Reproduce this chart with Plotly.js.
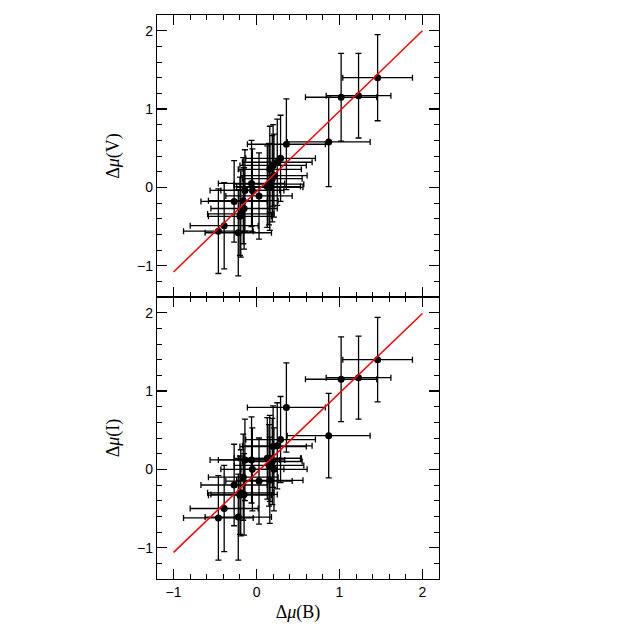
<!DOCTYPE html>
<html>
<head>
<meta charset="utf-8">
<script src="https://cdn.plot.ly/plotly-3.0.1.min.js"></script>
<style>body{margin:0;background:#fff}</style>
</head>
<body>
<div id="draw" style="width:638px;height:638px"></div>
<script>
// shared B offsets for both panels
const dB    = [1.46, 1.23, 1.02, 0.87, 0.36, 0.29, 0.25, 0.20, 0.16, 0.21, 0.19, 0.15, 0.16, 0.13, -0.06, -0.14, 0.03, -0.05, -0.27, -0.16, -0.15, -0.19, -0.20, -0.39, -0.46, -0.22]
const dBerr = [0.42, 0.39, 0.43, 0.50, 0.47, 0.42, 0.42, 0.40, 0.38, 0.40, 0.36, 0.42, 0.40, 0.40, 0.40, 0.42, 0.40, 0.38, 0.40, 0.42, 0.40, 0.40, 0.38, 0.41, 0.42, 0.40]

const dV    = [1.40, 1.17, 1.15, 0.58, 0.55, 0.37, 0.32, 0.28, 0.23, 0.15, 0.11, 0.04, 0.00, 0.01, 0.05, -0.04, -0.11, -0.04, -0.18, -0.17, -0.27, -0.34, -0.37, -0.49, -0.56, -0.58]
const dVerr = [0.55, 0.54, 0.56, 0.57, 0.58, 0.55, 0.55, 0.52, 0.55, 0.53, 0.55, 0.52, 0.55, 0.52, 0.55, 0.52, 0.55, 0.53, 0.52, 0.55, 0.52, 0.55, 0.50, 0.55, 0.54, 0.55]

const dI    = [1.40, 1.17, 1.15, 0.43, 0.79, 0.38, 0.30, 0.29, 0.14, 0.00, 0.10, 0.05, -0.14, 0.14, 0.12, 0.12, -0.15, 0.00, -0.20, -0.10, -0.32, -0.30, -0.33, -0.50, -0.62, -0.61]
const dIerr = [0.54, 0.53, 0.54, 0.54, 0.57, 0.55, 0.55, 0.52, 0.55, 0.53, 0.55, 0.52, 0.55, 0.52, 0.55, 0.52, 0.55, 0.53, 0.52, 0.55, 0.52, 0.55, 0.50, 0.55, 0.54, 0.55]

// fitted relations
const fitX = [-1, 2]
const fitV = [-1.08, 2.0]
const fitI = [-1.06, 1.99]

const pts = (y, yerr, xa, ya) => ({
  x: dB, y: y,
  xaxis: xa, yaxis: ya,
  mode: 'markers', type: 'scatter',
  marker: {color: 'black', size: 7},
  error_x: {type: 'data', array: dBerr, visible: true, color: 'black', thickness: 1.3, width: 3},
  error_y: {type: 'data', array: yerr, visible: true, color: 'black', thickness: 1.3, width: 3},
  showlegend: false, hoverinfo: 'skip'
})
const fit = (y, xa, ya) => ({
  x: fitX, y: y, xaxis: xa, yaxis: ya,
  mode: 'lines', type: 'scatter',
  line: {color: '#ff0000', width: 1.5},
  showlegend: false, hoverinfo: 'skip'
})

const minor = {dtick: 0.2, ticks: 'inside', ticklen: 5, tickwidth: 1, tickcolor: 'black'}
const baseAxis = {
  showgrid: false, zeroline: false,
  showline: true, linecolor: 'black', linewidth: 1.2, mirror: 'allticks',
  ticks: 'inside', ticklen: 10, tickwidth: 1.2, tickcolor: 'black',
  dtick: 1, tick0: 0, minor: minor,
  tickfont: {family: 'Liberation Sans, Arial, sans-serif', size: 14, color: 'black'},
  fixedrange: true
}
const titleFont = {family: 'Liberation Serif, Times New Roman, serif', size: 18, color: 'black'}

const layout = {
  width: 638, height: 638,
  margin: {l: 157, r: 199, t: 15, b: 59},
  paper_bgcolor: 'white', plot_bgcolor: 'white',
  xaxis: Object.assign({}, baseAxis, {
    range: [-1.2, 2.2], anchor: 'y2',
    title: {text: 'Δ<i>μ</i>(B)', font: titleFont, standoff: 6}
  }),
  xaxis2: Object.assign({}, baseAxis, {
    range: [-1.2, 2.2], anchor: 'y', matches: 'x', showticklabels: false
  }),
  yaxis: Object.assign({}, baseAxis, {
    range: [-1.4, 2.2], domain: [0.5, 1], anchor: 'x2',
    title: {text: 'Δ<i>μ</i>(V)', font: titleFont, standoff: 12}
  }),
  yaxis2: Object.assign({}, baseAxis, {
    range: [-1.4, 2.2], domain: [0, 0.5], anchor: 'x',
    title: {text: 'Δ<i>μ</i>(I)', font: titleFont, standoff: 12}
  })
}

Plotly.newPlot('draw', [
  pts(dV, dVerr, 'x2', 'y'), fit(fitV, 'x2', 'y'),
  pts(dI, dIerr, 'x', 'y2'), fit(fitI, 'x', 'y2')
], layout, {displayModeBar: false, staticPlot: true})
</script>
</body>
</html>
